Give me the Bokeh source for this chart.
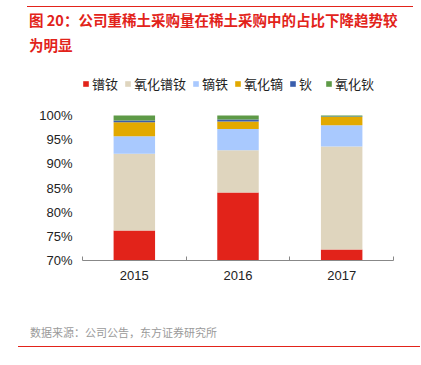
from bokeh.plotting import figure
from bokeh.models import (ColumnDataSource, FixedTicker, PrintfTickFormatter, Legend,
                          LegendItem, Div, Range1d)
from bokeh.layouts import column
from bokeh.embed import file_html
from bokeh.resources import INLINE

years = ["2015", "2016", "2017"]
series = ["镨钕", "氧化镨钕", "镝铁", "氧化镝", "钬", "氧化钬"]
pr_nd = [76.2, 84.1, 72.3]
pr_nd_oxide = [15.9, 8.7, 21.3]
dy_fe = [3.6, 4.4, 4.4]
dy_oxide = [2.9, 1.6, 1.7]
ho = [0.4, 0.4, 0.1]
ho_oxide = [1.0, 0.8, 0.2]
y_ticks = [70, 75, 80, 85, 90, 95, 100]
colors = ["#E2231A", "#DFD5BE", "#A9C9FE", "#E2A900", "#3A5EAD", "#5E9A47"]

x_pos = [i + 0.5 for i in range(len(years))]
keys = ["s0", "s1", "s2", "s3", "s4", "s5"]
src = ColumnDataSource(dict(x=x_pos, s0=pr_nd, s1=pr_nd_oxide, s2=dy_fe,
                            s3=dy_oxide, s4=ho, s5=ho_oxide))

title = Div(text=(
    '<div style="margin-top:6px; border-top:1.5px solid #E2231A; margin-left:27px; width:386px; '
    'color:#E2231A; font-weight:bold; font-size:14.5px; line-height:25px; '
    'font-family:\'Noto Sans CJK SC\';"><span style="margin-left:2px;">'
    '图 20：公司重稀土采购量在稀土采购中的占比下降趋势较</span><br>'
    '<span style="margin-left:2px;">为明显</span></div>'),
    width=413, height=62, margin=0)

# the (invisible) frame extends above 100% so that the legend can sit inside it
p = figure(width=413, height=228, output_backend="svg", toolbar_location=None,
           x_range=Range1d(0, len(years)), y_range=Range1d(70, 108.3),
           min_border_left=82, min_border_right=20, min_border_top=13,
           min_border_bottom=30, margin=0, sizing_mode="fixed")
p.outline_line_color = None
p.grid.visible = False

rs = p.vbar_stack(keys, x="x", width=0.4, color=colors, line_width=0, source=src)

legend = Legend(items=[LegendItem(label=s, renderers=[r]) for s, r in zip(series, rs)],
                orientation="horizontal", location=(0, 167),
                label_text_font_size="13px", label_text_font="Noto Sans CJK SC",
                label_text_color="#222222", glyph_width=7, glyph_height=7,
                spacing=6, label_standoff=3, padding=0, margin=0,
                border_line_color=None, background_fill_alpha=0,
                label_height=16)
p.add_layout(legend)

xa = p.xaxis[0]
xa.ticker = FixedTicker(ticks=x_pos, minor_ticks=[i for i in range(len(years) + 1)])
xa.major_label_overrides = {x: y for x, y in zip(x_pos, years)}
xa.major_tick_line_color = None
xa.minor_tick_in = 4
xa.minor_tick_out = 0
xa.minor_tick_line_color = "#888888"
xa.axis_line_color = "#888888"
xa.major_label_text_font = "Liberation Sans"
xa.major_label_text_font_size = "13px"
xa.major_label_text_color = "#222222"
xa.major_label_standoff = 4

ya = p.yaxis[0]
ya.ticker = FixedTicker(ticks=y_ticks)
ya.formatter = PrintfTickFormatter(format="%d%%")
ya.axis_line_color = None
ya.major_tick_line_color = None
ya.major_tick_in = 0
ya.major_tick_out = 0
ya.minor_tick_line_color = None
ya.minor_tick_in = 0
ya.minor_tick_out = 0
ya.major_label_text_font = "Liberation Sans"
ya.major_label_text_font_size = "13px"
ya.major_label_text_color = "#222222"
ya.major_label_standoff = 10

source_div = Div(text=(
    '<div style="margin-left:18px; width:402px; padding-top:34px; padding-bottom:6px; '
    'border-bottom:1.5px solid #E2231A; color:#9a9a9a; font-size:11px; line-height:16px; '
    'font-family:\'Noto Sans CJK SC\';"><span style="margin-left:12px;">'
    '数据来源：公司公告，东方证券研究所</span></div>'),
    width=413, height=60, margin=0)

layout = column(title, p, source_div, spacing=0)
open("out.html", "w").write(file_html(layout, INLINE))
